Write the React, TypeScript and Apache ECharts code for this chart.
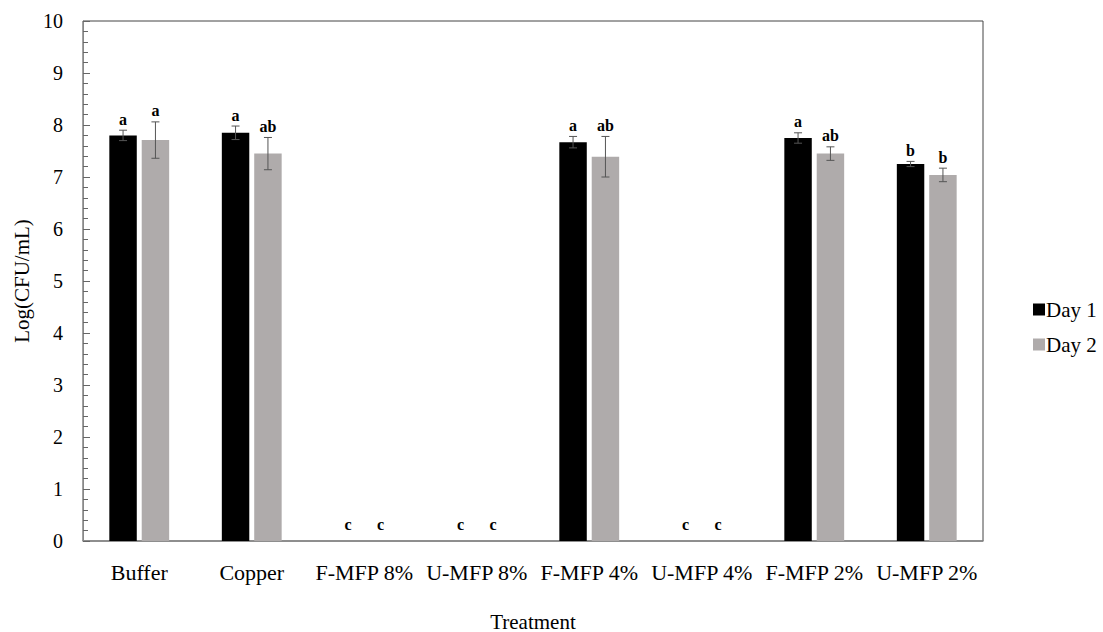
import React, { useEffect, useRef } from "react";
import * as echarts from "echarts";

const categories = ["Buffer", "Copper", "F-MFP 8%", "U-MFP 8%", "F-MFP 4%", "U-MFP 4%", "F-MFP 2%", "U-MFP 2%"];
const day1Values = [7.8, 7.85, 0, 0, 7.67, 0, 7.75, 7.25];
const day1Errors = [0.1, 0.13, 0, 0, 0.11, 0, 0.1, 0.05];
const day1Letters = ["a", "a", "c", "c", "a", "c", "a", "b"];
const day2Values = [7.71, 7.45, 0, 0, 7.39, 0, 7.45, 7.04];
const day2Errors = [0.35, 0.31, 0, 0, 0.39, 0, 0.13, 0.13];
const day2Letters = ["a", "ab", "c", "c", "ab", "c", "ab", "b"];

const FONT = "'Liberation Serif', 'Times New Roman', serif";
const BAR_W = 0.244;
const GAP = 0.18;

function makeErr(values: number[], errs: number[], letters: string[], side: number) {
  return {
    type: "custom",
    coordinateSystem: "cartesian2d",
    z: 5,
    encode: { x: 0, y: 1 },
    data: values.map((v, i) => [i, v, errs[i]]),
    renderItem: (params: any, api: any) => {
      const cat = api.value(0);
      const val = api.value(1);
      const err = api.value(2);
      const band = api.size([1, 0])[0];
      const bw = band * BAR_W;
      const gap = bw * GAP;
      const base = api.coord([cat, val]);
      const x = base[0] + side * (bw + gap) / 2;
      const children: any[] = [];
      const lineStyle = { stroke: "#555", lineWidth: 1 };
      let topY = base[1];
      if (err > 0) {
        const t = api.coord([cat, val + err])[1];
        const b = api.coord([cat, val - err])[1];
        topY = t;
        children.push({ type: "line", shape: { x1: x, y1: t, x2: x, y2: b }, style: lineStyle });
        children.push({ type: "line", shape: { x1: x - 4, y1: t, x2: x + 4, y2: t }, style: lineStyle });
        children.push({ type: "line", shape: { x1: x - 4, y1: b, x2: x + 4, y2: b }, style: lineStyle });
      }
      const off = val === 0 ? 17 : 11;
      children.push({
        type: "text",
        style: {
          text: letters[params.dataIndex],
          x,
          y: topY - off,
          align: "center",
          verticalAlign: "middle",
          fontFamily: FONT,
          fontWeight: "bold",
          fontSize: 16,
          fill: "#000",
        },
      });
      return { type: "group", children };
    },
  };
}

export default function App() {
  const ref = useRef<HTMLDivElement>(null);
  useEffect(() => {
    document.body.style.margin = "0";
    const chart = echarts.init(ref.current!, null, { renderer: "svg" });
    chart.setOption({
      animation: false,
      textStyle: { fontFamily: FONT, color: "#000" },
      grid: {
        left: 83,
        right: 120,
        top: 21,
        bottom: 91,
        show: true,
        borderColor: "#444",
        borderWidth: 1,
        containLabel: false,
        outerBoundsMode: "none",
      },
      legend: {
        data: ["Day 1", "Day 2"],
        orient: "vertical",
        left: 1028,
        top: 294,
        itemWidth: 12,
        itemHeight: 12,
        itemGap: 14,
        icon: "rect",
        textStyle: { fontFamily: FONT, fontSize: 21, color: "#000", padding: [0, 0, 0, -4] },
      },
      xAxis: {
        type: "category",
        data: categories,
        name: "Treatment",
        nameLocation: "middle",
        nameGap: 70,
        nameTextStyle: { fontFamily: FONT, fontSize: 21, color: "#000" },
        axisLine: { lineStyle: { color: "#888", width: 1.5 } },
        axisTick: { show: false },
        axisLabel: { fontFamily: FONT, fontSize: 22, color: "#000", margin: 20, interval: 0 },
      },
      yAxis: {
        type: "value",
        min: 0,
        max: 10,
        interval: 1,
        name: "Log(CFU/mL)",
        nameLocation: "middle",
        nameGap: 47,
        nameTextStyle: { fontFamily: FONT, fontSize: 21, color: "#000" },
        axisLine: { show: true, lineStyle: { color: "#888" } },
        axisTick: { show: true, inside: true, length: 7, lineStyle: { color: "#666" } },
        minorTick: { show: true, splitNumber: 5, length: 5, lineStyle: { color: "#666" } },
        splitLine: { show: false },
        axisLabel: { fontFamily: FONT, fontSize: 20, color: "#000", margin: 20 },
      },
      series: [
        {
          name: "Day 1",
          type: "bar",
          data: day1Values,
          barWidth: (BAR_W * 100).toFixed(1) + "%",
          barGap: GAP * 100 + "%",
          itemStyle: { color: "#000" },
        },
        {
          name: "Day 2",
          type: "bar",
          data: day2Values,
          barWidth: (BAR_W * 100).toFixed(1) + "%",
          barGap: GAP * 100 + "%",
          itemStyle: { color: "#AFABAB" },
        },
        makeErr(day1Values, day1Errors, day1Letters, -1),
        makeErr(day2Values, day2Errors, day2Letters, 1),
      ],
    });
    return () => chart.dispose();
  }, []);
  return <div ref={ref} style={{ width: 1103, height: 632, background: "#fff" }} />;
}
